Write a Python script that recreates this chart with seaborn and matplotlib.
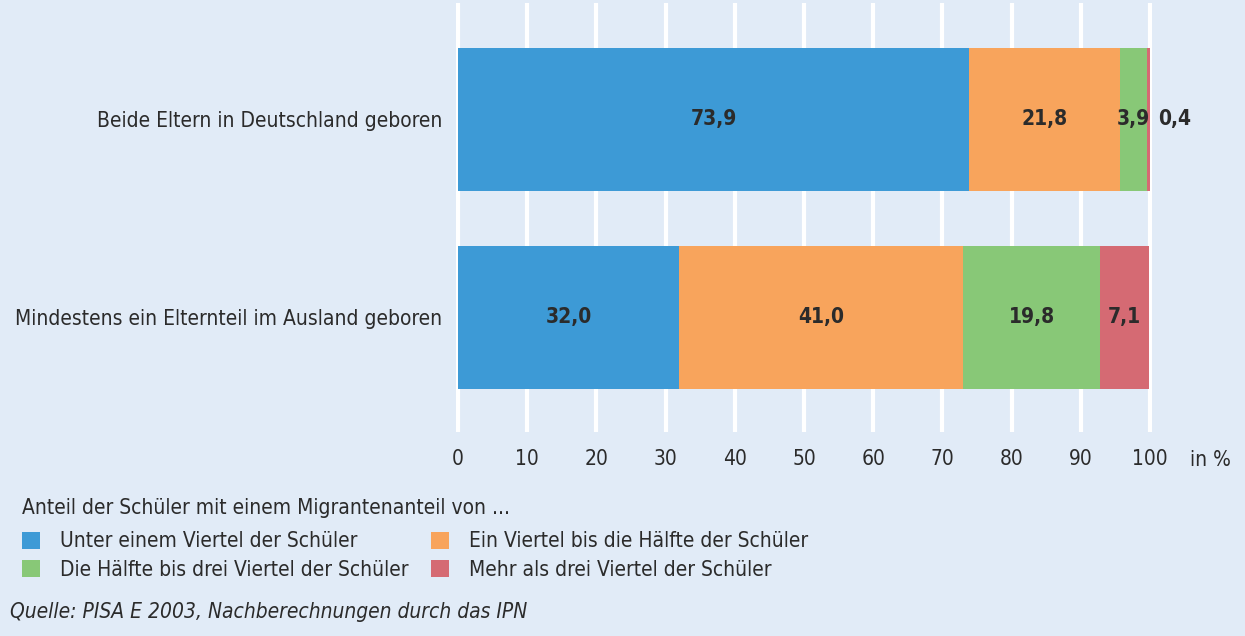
import matplotlib
matplotlib.use("Agg")
import matplotlib.pyplot as plt
import numpy as np
import pandas as pd
import seaborn as sns
from matplotlib.patches import Patch

groups = ["Beide Eltern in Deutschland geboren", "Mindestens ein Elternteil im Ausland geboren"]
series = [
    "Unter einem Viertel der Schüler",
    "Ein Viertel bis die Hälfte der Schüler",
    "Die Hälfte bis drei Viertel der Schüler",
    "Mehr als drei Viertel der Schüler",
]
under_quarter = [73.9, 32.0]
quarter_half = [21.8, 41.0]
half_three_quarter = [3.9, 19.8]
over_three_quarter = [0.4, 7.1]
colors = ["#3d9ad6", "#f8a45c", "#88c877", "#d56a73"]
x_ticks = [0, 10, 20, 30, 40, 50, 60, 70, 80, 90, 100]

BG = "#e1ebf7"
TXT = "#2b2b2b"
FS = 15

sns.set_theme(style="white")
plt.rcParams["font.family"] = ["DejaVu Sans"]
plt.rcParams["font.stretch"] = "condensed"

values = [under_quarter, quarter_half, half_three_quarter, over_three_quarter]
df = pd.DataFrame({s: v for s, v in zip(series, values)}, index=groups)
cum = df.cumsum(axis=1)

fig = plt.figure(figsize=(12.45, 6.36), dpi=100, facecolor=BG)
ax = fig.add_axes([0.3662, 0.3208, 0.5592, 0.6745])
ax.set_facecolor(BG)

# stacked bars: draw cumulative totals from the outermost layer inwards
for i in range(len(series) - 1, -1, -1):
    layer = pd.DataFrame({"group": groups, "value": cum.iloc[:, i].values})
    sns.barplot(data=layer, x="value", y="group", orient="h", color=colors[i],
                width=0.722, saturation=1, ax=ax, zorder=2, linewidth=0)

for gi, g in enumerate(groups):
    left = 0
    for si, s in enumerate(series):
        v = df.loc[g, s]
        label = f"{v:.1f}".replace(".", ",")
        if v < 1:
            x = left + v + 3.6
        else:
            x = left + v / 2
        ax.text(x, gi, label, ha="center", va="center", fontsize=FS,
                fontweight="bold", color=TXT, zorder=3)
        left += v

ax.set_ylim(1.578, -0.588)
ax.set_xticks(x_ticks)
ax.set_xticklabels([str(t) for t in x_ticks], fontsize=FS, color=TXT)
ax.tick_params(axis="x", length=0, pad=12)
ax.tick_params(axis="y", length=0, pad=10, labelsize=FS, labelcolor=TXT)
ax.set_xlabel("")
ax.set_ylabel("")
for t in x_ticks:
    ax.axvline(t, color="white", lw=3, zorder=1)
for sp in ax.spines.values():
    sp.set_visible(False)
ax.set_xlim(-0.3, 100.3)

fig.text(1210 / 1245, 1 - 460 / 636, "in %", fontsize=FS, color=TXT, ha="center", va="center")

fig.text(22 / 1245, 1 - 508 / 636, "Anteil der Schüler mit einem Migrantenanteil von ...",
         fontsize=FS, color=TXT, ha="left", va="center")
order = [0, 2, 1, 3]
handles = [Patch(facecolor=colors[i], edgecolor="none", label=series[i]) for i in order]
fig.legend(handles=handles, ncol=2, loc="upper left", bbox_to_anchor=(14 / 1245, 1 - 523 / 636),
           frameon=False, fontsize=FS, handlelength=0.87, handleheight=0.87, handletextpad=0.96,
           columnspacing=1.05, labelspacing=0.4, labelcolor=TXT, borderaxespad=0, borderpad=0.4)
fig.text(10 / 1245, 1 - 612 / 636, "Quelle: PISA E 2003, Nachberechnungen durch das IPN",
         fontsize=FS, style="italic", color=TXT, ha="left", va="center")

fig.savefig("out.png", dpi=100, facecolor=BG)
